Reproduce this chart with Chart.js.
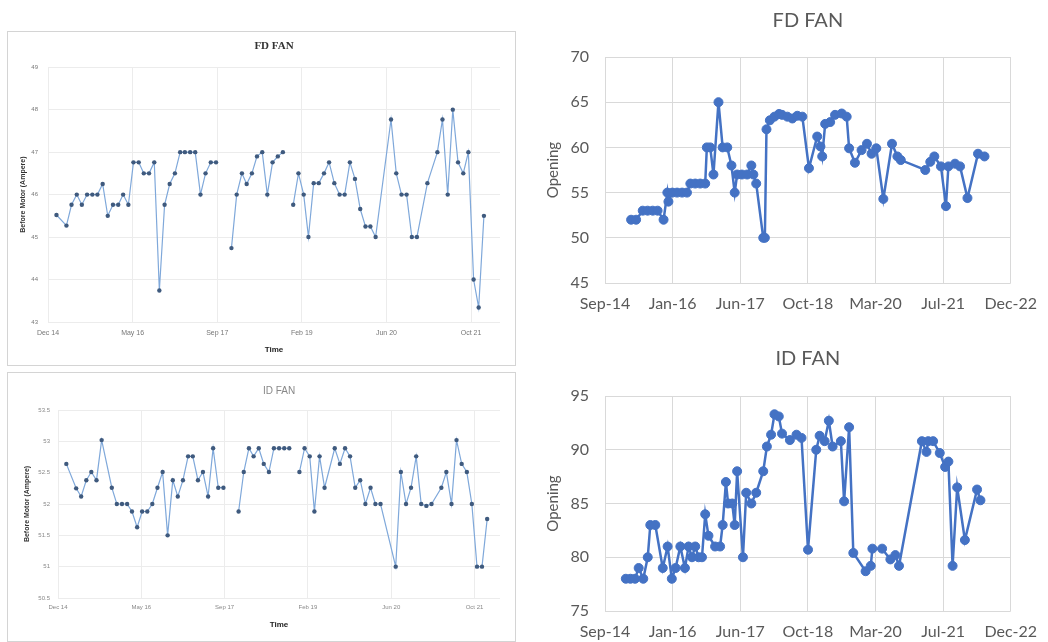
<!DOCTYPE html>
<html><head><meta charset="utf-8">
<script src="https://cdn.jsdelivr.net/npm/chart.js@4.4.0/dist/chart.umd.min.js"></script>
<style>
html,body{margin:0;padding:0;background:#fff;}
body{width:1048px;height:642px;position:relative;overflow:hidden;}
.panel{position:absolute;border:1px solid #d4d4d4;background:#fff;box-sizing:border-box;}
canvas{position:absolute;}
</style></head><body>
<div class="panel" style="left:7px;top:31px;width:509px;height:335px"></div>
<div class="panel" style="left:7px;top:372px;width:509px;height:270px"></div>
<canvas id="c1" width="507" height="333" style="left:8px;top:32px"></canvas>
<canvas id="c2" width="507" height="267" style="left:8px;top:373px"></canvas>
<canvas id="c3" width="528" height="318" style="left:520px;top:0px"></canvas>
<canvas id="c4" width="528" height="324" style="left:520px;top:318px"></canvas>
<script>
// ---------- data ----------
const leftTickDates = ["2014-12-27","2016-05-10","2017-09-22","2019-02-04","2020-06-18","2021-10-31"];
const leftTickLabels = ["Dec 14","May 16","Sep 17","Feb 19","Jun 20","Oct 21"];
const rightTickDates = ["2014-09-15","2016-01-28","2017-06-11","2018-10-24","2020-03-07","2021-07-20","2022-12-02"];
const rightTickLabels = ["Sep-14","Jan-16","Jun-17","Oct-18","Mar-20","Jul-21","Dec-22"];

const fdLeftMonths = ["2015-02","2015-04","2015-05","2015-06","2015-07","2015-08","2015-09","2015-10","2015-11","2015-12",
"2016-01","2016-02","2016-03","2016-04","2016-05","2016-06","2016-07","2016-08","2016-09","2016-10","2016-11","2016-12",
"2017-01","2017-02","2017-03","2017-04","2017-05","2017-06","2017-07","2017-08","2017-09","2017-10","2017-11","2017-12",
"2018-01","2018-02","2018-03","2018-04","2018-05","2018-06","2018-07","2018-08","2018-09","2018-10","2018-11","2018-12",
"2019-01","2019-02","2019-03","2019-04","2019-05","2019-06","2019-07","2019-08","2019-09","2019-10","2019-11","2019-12",
"2020-01","2020-02","2020-03","2020-04","2020-07","2020-08","2020-09","2020-10","2020-11","2020-12",
"2021-02","2021-04","2021-05","2021-06","2021-07","2021-08","2021-09","2021-10","2021-11","2021-12","2022-01"];
const fdLeftAmps = [45.52,45.27,45.76,46.0,45.76,46.0,46.0,46.0,46.25,45.5,
45.76,45.76,46.0,45.76,46.76,46.76,46.5,46.5,46.76,43.74,45.76,46.25,
46.5,47,47,47,47,46.0,46.5,46.76,46.76,null,null,44.74,
46.0,46.5,46.25,46.5,46.9,47.0,46.0,46.76,46.9,47.0,null,45.76,
46.5,46.0,45.0,46.27,46.27,46.5,46.76,46.27,46.0,46.0,46.76,46.37,
45.66,45.25,45.25,45.0,47.77,46.5,46.0,46.0,45.0,45.0,
46.27,47.0,47.77,46.0,48.0,46.76,46.5,47.0,44.0,43.34,45.5];

const idLeftMonths = ["2015-02","2015-04","2015-05","2015-06","2015-07","2015-08","2015-09","2015-11","2015-12",
"2016-01","2016-02","2016-03","2016-04","2016-05","2016-06","2016-07","2016-08","2016-09","2016-10","2016-11","2016-12",
"2017-01","2017-02","2017-03","2017-04","2017-05","2017-06","2017-07","2017-08","2017-09","2017-10","2017-11","2017-12",
"2018-01","2018-02","2018-03","2018-04","2018-05","2018-06","2018-07","2018-08","2018-09","2018-10","2018-11","2018-12",
"2019-01","2019-02","2019-03","2019-04","2019-05","2019-07","2019-08","2019-09","2019-10","2019-11","2019-12",
"2020-01","2020-02","2020-03","2020-04","2020-07","2020-08","2020-09","2020-10","2020-11","2020-12",
"2021-01","2021-02","2021-04","2021-05","2021-06","2021-07","2021-08","2021-09","2021-10","2021-11","2021-12","2022-01"];
const idLeftAmps = [52.64,52.25,52.12,52.38,52.51,52.38,53.02,52.26,52.0,
52.0,52.0,51.88,51.63,51.88,51.88,52.0,52.26,52.51,51.5,52.38,52.12,
52.38,52.76,52.76,52.38,52.51,52.12,52.89,52.26,52.26,null,null,51.88,
52.51,52.89,52.76,52.89,52.64,52.51,52.89,52.89,52.89,52.89,null,52.51,
52.89,52.76,51.88,52.76,52.26,52.89,52.64,52.89,52.76,52.26,52.38,
52.0,52.26,52.0,52.0,51.0,52.51,52.0,52.26,52.76,52.0,
51.97,52.0,52.26,52.51,52.0,53.02,52.64,52.51,52.0,51.0,51.0,51.76];

const fdRightDates = ["2015-03-27","2015-05-03","2015-06-21","2015-07-27","2015-09-03","2015-10-09","2015-11-22","2015-12-20","2015-12-28",
"2016-01-26","2016-03-01","2016-04-07","2016-05-13","2016-06-07","2016-07-13","2016-08-19","2016-09-25","2016-10-07","2016-11-01","2016-11-25",
"2017-01-01","2017-02-01","2017-03-07","2017-04-07","2017-05-01","2017-05-19","2017-06-23","2017-08-01","2017-09-01","2017-09-16","2017-10-07","2017-11-28","2017-12-10","2017-12-22",
"2018-01-16","2018-02-19","2018-03-25","2018-04-16","2018-05-25","2018-07-01","2018-08-07","2018-09-13","2018-11-01",
"2019-01-01","2019-01-25","2019-02-07","2019-03-01","2019-04-07","2019-05-13","2019-07-01","2019-08-07","2019-08-25","2019-10-07","2019-11-25",
"2020-01-04","2020-02-07","2020-03-13","2020-05-04","2020-07-07","2020-08-16","2020-09-10",
"2021-03-10","2021-04-16","2021-05-16","2021-07-04","2021-08-10","2021-08-28","2021-10-16","2021-11-22",
"2022-01-16","2022-04-04","2022-05-22"];
const fdRightOpening = [52,52,53,53,53,53,52,55,54,
55,55,55,55,56,56,56,56,60,60,57,
65,60,60,58,55,57,57,57,58,57,56,50,50,62,
63,63.4,63.7,63.6,63.4,63.2,63.5,63.4,57.7,
61.2,60.1,59.0,62.6,62.8,63.6,63.75,63.4,59.9,58.3,59.7,
60.4,59.3,59.9,54.3,60.4,59.0,58.6,
57.5,58.4,59.0,57.9,53.5,57.9,58.2,57.9,
54.4,59.3,59.0];

const idRightDates = ["2015-02-16","2015-03-22","2015-04-25","2015-05-22","2015-06-25","2015-07-28","2015-08-16","2015-09-22","2015-11-16","2015-12-22",
"2016-01-22","2016-02-19","2016-03-25","2016-04-28","2016-05-25","2016-06-19","2016-07-13","2016-08-07","2016-09-01","2016-09-25","2016-10-19","2016-12-07",
"2017-01-13","2017-02-01","2017-02-25","2017-03-13","2017-04-13","2017-05-01","2017-05-19","2017-07-01","2017-07-25","2017-09-01","2017-10-07","2017-11-28","2017-12-25",
"2018-01-25","2018-02-19","2018-03-23","2018-04-16","2018-06-13","2018-08-01","2018-09-07","2018-10-25","2018-12-25",
"2019-01-19","2019-02-25","2019-03-28","2019-04-25","2019-06-25","2019-07-19","2019-08-25","2019-09-25","2019-12-25",
"2020-02-01","2020-02-13","2020-04-25","2020-06-25","2020-08-01","2020-08-28",
"2021-02-13","2021-03-19","2021-04-01","2021-05-07","2021-06-25","2021-08-04","2021-08-28","2021-09-28","2021-11-01","2021-12-28",
"2022-03-28","2022-04-22"];
const idRightOpening = [78,78,78,79,78,80,83,83,79,81,
78,79,81,79,81,80,81,80,80,84,82,81,
81,83,87,85,85,83,88,80,86,85,86,88,90.3,
91.4,93.3,93.1,91.5,90.9,91.4,91.1,80.7,90.0,
91.3,90.8,92.7,90.3,90.8,85.2,92.1,80.4,78.7,
79.2,80.8,80.8,79.8,80.2,79.2,
90.8,89.8,90.8,90.8,89.7,88.4,88.9,79.2,86.5,81.6,
86.3,85.3];

// ---------- helpers ----------
function dayNum(s){ const p=s.split('-').map(Number); return Date.UTC(p[0],p[1]-1,p[2]||15)/864e5; }
function pts(dates, vals){ return dates.map((d,i)=>({x:dayNum(d), y:vals[i]})); }
function xAxis(tDates, tLabels, minD, maxD, o){
  return {
    type:'linear', min:dayNum(minD), max:dayNum(maxD),
    afterBuildTicks: s => { s.ticks = tDates.map(d=>({value:dayNum(d)})); },
    afterFit: s => { s.height = o.h; },
    grid:{color:o.grid, drawTicks:false},
    border:{display:false},
    ticks:{autoSkip:false, maxRotation:0, padding:o.tp, color:o.tc, font:o.tf, callback:(v,i)=>tLabels[i]},
    title: o.title ? {display:true, text:o.title, color:'#222', font:o.titleFont, padding:o.titlePad} : {display:false}
  };
}
function yAxis(min,max,step,o){
  return {
    min:min, max:max,
    afterBuildTicks: s => { const t=[]; for(let v=min; v<=max+1e-9; v+=step) t.push({value:+v.toFixed(2)}); s.ticks=t; },
    afterFit: s => { s.width = o.w; },
    grid:{color:o.grid, drawTicks:false},
    border:{display:false},
    ticks:{padding:o.tp, color:o.tc, font:o.tf, callback:o.cb || (v=>v)},
    title:{display:true, text:o.title, color:o.titleColor, font:o.titleFont, padding:o.titlePad}
  };
}
Chart.defaults.animation = false;
const base = {responsive:false, animation:false, events:[]};

// ---------- left FD ----------
new Chart(document.getElementById('c1'), {
  type:'line',
  data:{datasets:[{data:pts(fdLeftMonths, fdLeftAmps), borderColor:'#7fa8da', borderWidth:1.2,
    pointRadius:2.2, pointBackgroundColor:'#3f5a7e', pointBorderColor:'#3f5a7e', pointBorderWidth:0, spanGaps:false, tension:0}]},
  options:Object.assign({}, base, {
    layout:{padding:{left:5,right:15,top:0,bottom:4}},
    plugins:{legend:{display:false}, tooltip:{enabled:false},
      title:{display:true, fullSize:false, text:'FD FAN', color:'#333', font:{family:'Liberation Serif', size:11, weight:'bold'}, padding:{top:8,bottom:14}}},
    scales:{
      x: xAxis(leftTickDates, leftTickLabels, '2014-12-27', '2022-04-20',
        {h:39, grid:'#ececec', tp:7, tc:'#777', tf:{family:'Liberation Sans', size:7}, title:'Time', titleFont:{family:'Liberation Sans', size:8, weight:'bold'}, titlePad:{top:2,bottom:6}}),
      y: yAxis(43,49,1,{w:35, grid:'#ececec', tp:10, tc:'#777', tf:{family:'Liberation Sans', size:6},
        title:'Before Motor (Ampere)', titleColor:'#333', titleFont:{family:'Liberation Sans', size:7, weight:'bold'}, titlePad:{top:6,bottom:2}})
    }
  })
});

// ---------- left ID ----------
new Chart(document.getElementById('c2'), {
  type:'line',
  data:{datasets:[{data:pts(idLeftMonths, idLeftAmps), borderColor:'#7fa8da', borderWidth:1.2,
    pointRadius:2.2, pointBackgroundColor:'#3f5a7e', pointBorderColor:'#3f5a7e', pointBorderWidth:0, spanGaps:false, tension:0}]},
  options:Object.assign({}, base, {
    layout:{padding:{left:5,right:15,top:0,bottom:4}},
    plugins:{legend:{display:false}, tooltip:{enabled:false},
      title:{display:true, fullSize:false, text:'ID FAN', color:'#888', font:{family:'Liberation Sans', size:10, weight:'normal'}, padding:{top:12,bottom:13}}},
    scales:{
      x: xAxis(leftTickDates, leftTickLabels, '2014-12-27', '2022-04-02',
        {h:38, grid:'#ececec', tp:6, tc:'#888', tf:{family:'Liberation Sans', size:6}, title:'Time', titleFont:{family:'Liberation Sans', size:8, weight:'bold'}, titlePad:{top:2,bottom:6}}),
      y: yAxis(50.5,53.5,0.5,{w:45, grid:'#ececec', tp:8, tc:'#888', tf:{family:'Liberation Sans', size:6},
        title:'Before Motor (Ampere)', titleColor:'#333', titleFont:{family:'Liberation Sans', size:7, weight:'bold'}, titlePad:{top:10,bottom:2},
        cb:v=>(Math.round(v*2)%2 ? v.toFixed(1) : String(Math.round(v)))})
    }
  })
});

// ---------- right charts ----------
function rightChart(id, dates, vals, title, ymin, ymax, titlePad){
  return new Chart(document.getElementById(id), {
    type:'line',
    data:{datasets:[{data:pts(dates, vals), borderColor:'#4472c4', borderWidth:2.5,
      pointRadius:4.5, pointBackgroundColor:'#4472c4', pointBorderColor:'#4472c4', pointBorderWidth:1, tension:0}]},
    options:Object.assign({}, base, {
      layout:{padding:{left:20,right:30,top:0,bottom:2}},
      plugins:{legend:{display:false}, tooltip:{enabled:false},
        title:{display:true, fullSize:false, text:title, color:'#595959', font:{family:'Lato', size:20, weight:'normal'}, padding:titlePad}},
      scales:{
        x: xAxis(rightTickDates, rightTickLabels, '2014-09-15', '2022-12-02',
          {h:titlePad.xh, grid:'#d9d9d9', tp:11, tc:'#595959', tf:{family:'Lato', size:16}, title:null}),
        y: yAxis(ymin,ymax,5,{w:65, grid:'#d9d9d9', tp:16, tc:'#595959', tf:{family:'Lato', size:16},
          title:'Opening', titleColor:'#595959', titleFont:{family:'Lato', size:15}, titlePad:{top:4,bottom:4}})
      }
    })
  });
}
rightChart('c3', fdRightDates, fdRightOpening, 'FD FAN', 45, 70, {top:9, bottom:24, xh:33});
rightChart('c4', idRightDates, idRightOpening, 'ID FAN', 75, 95, {top:29, bottom:25, xh:29});
</script>
</body></html>
